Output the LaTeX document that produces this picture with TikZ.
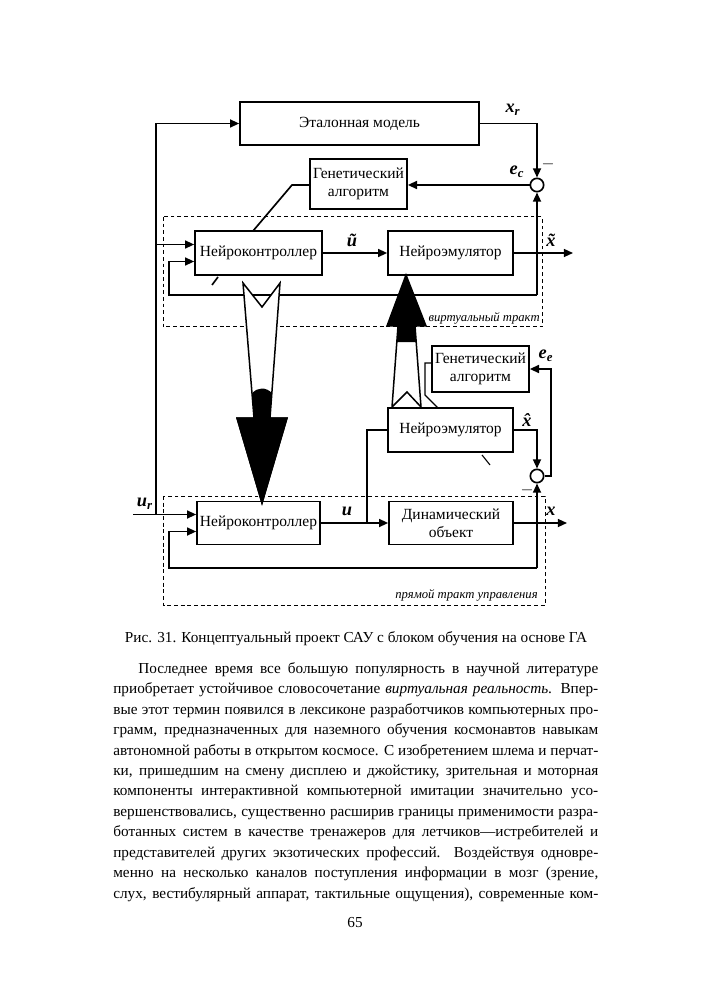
\documentclass[tikz,border=0pt]{standalone}
\usepackage{fontspec}
\setmainfont{Liberation Serif}
\usetikzlibrary{arrows.meta}
\newcommand\jline[1]{\hbox to 291pt{#1}}
\begin{document}
\begin{tikzpicture}[x=0.6pt,y=-0.6pt,
  wh/.style 2 args={minimum width=#1*0.6pt,minimum height=#2*0.6pt},
  blk/.style={draw,line width=1pt,inner sep=0pt,font=\fontsize{9.3}{11}\selectfont,align=center},
  sig/.style={line width=1pt,-{Triangle[length=5.5pt,width=4.8pt]}},
  ln/.style={line width=1pt},
  thinln/.style={line width=0.65pt},
  dbox/.style={line width=0.6pt,dash pattern=on 2.3pt off 1.7pt},
  sumnode/.style={circle,draw,line width=1pt,minimum size=8pt,inner sep=0pt},
  lbl/.style={font=\fontsize{11}{12}\selectfont\bfseries\itshape,inner sep=0pt},
  tag/.style={font=\fontsize{7.6}{9}\selectfont\itshape,anchor=east,inner sep=0pt},
  bigarrow/.style={line width=0.9pt,draw=black,fill=white,line join=miter},
]
\useasboundingbox[fill=white] (0,0) rectangle (707,1000);

% dashed frames
\draw[dbox] (163,217) rectangle (542,327);
\draw[dbox] (163,496) rectangle (545,605);

% blocks
\node[blk,wh={239}{43}] (etalon) at (359.5,123.5) {Эталонная модель};
\node[blk,wh={97}{50}] (ga1) at (358.5,184) {Генетический\\алгоритм};
\node[blk,wh={127}{44}] (nc1) at (258.5,253) {Нейроконтроллер};
\node[blk,wh={125}{44}] (ne1) at (450.5,253) {Нейроэмулятор};
\node[blk,wh={97}{46}] (ga2) at (480.5,369) {Генетический\\алгоритм};
\node[blk,wh={125}{44}] (ne2) at (450.5,430) {Нейроэмулятор};
\node[blk,wh={123}{43}] (nc2) at (258.5,523) {Нейроконтроллер};
\node[blk,wh={124}{43}] (dyn) at (451,523) {Динамический\\объект};
\node[sumnode] (sum1) at (537,185) {};
\node[sumnode] (sum2) at (537,476) {};

% coordinates
\coordinate (lj) at (156,514.5);
\coordinate (lj2) at (156,244.5);
\coordinate (urin) at (133,514.5);
\coordinate (fbR) at (537,295);
\coordinate (fbL) at (169,295);
\coordinate (nc1in) at (169,261.5);
\coordinate (xt) at (573,253);
\coordinate (fbR2) at (537,568);
\coordinate (fbL2) at (169,568);
\coordinate (nc2in) at (169,531.5);
\coordinate (xo) at (567,523);
\coordinate (ub) at (367,523);
\coordinate (ee) at (551,476);
\coordinate (g1a) at (292,185);
\coordinate (g1b) at (253,231);
\coordinate (t1a) at (218,277);
\coordinate (t1b) at (212,285);
\coordinate (g2a) at (425,363);
\coordinate (g2b) at (425,395);
\coordinate (g2c) at (438,408);
\coordinate (t2a) at (482,455);
\coordinate (t2b) at (490,465);

% connectors
\draw[sig] (lj) |- (etalon.west);
\draw[sig] (lj2) -- (lj2 -| nc1.west);
\draw[sig] (urin) -- (urin -| nc2.west);
\draw[sig] (etalon.east) -| (sum1.north);
\draw[sig] (sum1.west) -- (sum1.west -| ga1.east);
\draw[ln] (g1a -| ga1.west) -- (g1a) -- (g1b);
\draw[ln] (t1a) -- (t1b);
\draw[sig] (fbR) -- (sum1.south);
\draw[sig] (fbR) -- (fbL) -- (nc1in) -- (nc1in -| nc1.west);
\draw[sig] (nc1.east) -- (ne1.west);
\draw[sig] (ne1.east) -- (xt);

\draw[sig] (nc2.east) -- (dyn.west);
\draw[sig] (dyn.east) -- (xo);
\draw[ln] (ub) |- (ne2.west);
\draw[sig] (fbR2) -- (sum2.south);
\draw[sig] (fbR2) -- (fbL2) -- (nc2in) -- (nc2in -| nc2.west);
\draw[sig] (ne2.east) -| (sum2.north);
\draw[sig] (sum2.east) -- (ee) |- (ga2.east);
\draw[thinln] (g2a -| ga2.west) -- (g2a) -- (g2b) -- (g2c);
\draw[thinln] (t2a) -- (t2b);

% big arrow down (NC virtual -> NC real)
\draw[bigarrow] (243,283) -- (262,307) -- (280,283) -- (270,418) -- (287,418)
  -- (262,503) -- (237,418) -- (254,418) -- cycle;
\fill[black] (252.3,393) .. controls (258,387) and (266,387) .. (271.8,393)
  -- (270,418) -- (287,418) -- (262,503) -- (237,418) -- (254,418) -- cycle;
\draw[line width=0.9pt,line join=miter] (270,418) -- (287,418) -- (262,503) -- (237,418) -- (254,418);

% big arrow up (NE real -> NE virtual)
\draw[bigarrow] (392,407) -- (407,392) -- (421,407) -- (415,326) -- (426,326)
  -- (406,275) -- (387,326) -- (398,326) -- cycle;
\fill[black] (396.8,342) -- (416.2,342) -- (415,326) -- (426,326) -- (406,275)
  -- (387,326) -- (398,326) -- cycle;

% labels
\node[lbl] (lxr) at (513,110) {x\textsubscript{r}};
\node (m1) at (548,164) {$-$};
\node[lbl] (lec) at (517,172) {e\textsubscript{c}};
\node[lbl] (lut) at (352,240) {\~{u}};
\node[lbl] (lxt) at (551,240) {\~{x}};
\node[tag] (tv) at (540,318) {виртуальный тракт};
\node[lbl] (lxh) at (527,420) {\^{x}};
\node[lbl] (lee) at (546,356) {e\textsubscript{e}};
\node (m2) at (527,490) {$-$};
\node[lbl] (lur) at (145,504) {u\textsubscript{r}};
\node[lbl] (lu) at (347,511) {u};
\node[lbl] (lx) at (551,511) {x};
\node[tag] (tp) at (538,595) {прямой тракт управления};

% caption and text
\node[font=\fontsize{9.15}{12}\selectfont] (cap) at (356,639) {Рис. 31. Концептуальный проект САУ с блоком обучения на основе ГА};
\node[anchor=north west,inner sep=0pt,font=\fontsize{9.15}{12.27}\selectfont] (body) at (113,662) {\vbox{\hsize=291pt\baselineskip=12.27pt
\jline{\hskip15pt Последнее время все большую популярность в научной литературе}
\jline{приобретает устойчивое словосочетание \textit{виртуальная реальность}. Впер-}
\jline{вые этот термин появился в лексиконе разработчиков компьютерных про-}
\jline{грамм, предназначенных для наземного обучения космонавтов навыкам}
\jline{автономной работы в открытом космосе. С изобретением шлема и перчат-}
\jline{ки, пришедшим на смену дисплею и джойстику, зрительная и моторная}
\jline{компоненты интерактивной компьютерной имитации значительно усо-}
\jline{вершенствовались, существенно расширив границы применимости разра-}
\jline{ботанных систем в качестве тренажеров для летчиков—истребителей и}
\jline{представителей других экзотических профессий. Воздействуя одновре-}
\jline{менно на несколько каналов поступления информации в мозг (зрение,}
\jline{слух, вестибулярный аппарат, тактильные ощущения), современные ком-}}};
\node[font=\fontsize{9.15}{12}\selectfont] (pg) at (355,923) {65};
\end{tikzpicture}
\end{document}
